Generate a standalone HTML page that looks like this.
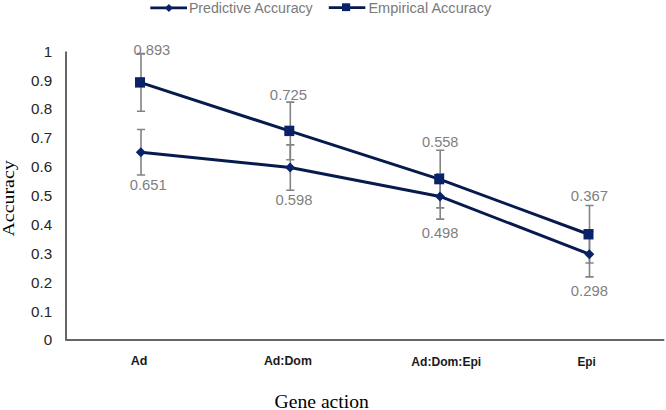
<!DOCTYPE html>
<html><head><meta charset="utf-8"><style>
html,body{margin:0;padding:0;background:#fff;overflow:hidden;}
svg{display:block;}
text{font-family:"Liberation Sans",sans-serif;}
.yt{fill:#262626;}
.dl{fill:#7f7f7f;}
.xl{font-weight:bold;fill:#1a1a1a;}
.lg{fill:#7a7a7a;}
.at{font-family:"Liberation Serif",serif;fill:#000;}
</style></head><body>
<svg width="666" height="410" viewBox="0 0 666 410">
<path d="M66 51.6V340.05H664.3" stroke="#656565" stroke-width="2" fill="none" stroke-linejoin="round"/>
<path d="M141.0 129.56V174.96M136.90 129.56H145.10M136.90 174.96H145.10" stroke="#838383" stroke-width="1.6" fill="none"/>
<path d="M290.3 144.86V190.26M286.20 144.86H294.40M286.20 190.26H294.40" stroke="#838383" stroke-width="1.6" fill="none"/>
<path d="M440.2 173.73V219.13M436.10 173.73H444.30M436.10 219.13H444.30" stroke="#838383" stroke-width="1.6" fill="none"/>
<path d="M589.5 231.47V276.87M585.40 231.47H593.60M585.40 276.87H593.60" stroke="#838383" stroke-width="1.6" fill="none"/>
<path d="M141.0 53.59V111.19M136.90 53.59H145.10M136.90 111.19H145.10" stroke="#838383" stroke-width="1.6" fill="none"/>
<path d="M290.3 102.09V159.69M286.20 102.09H294.40M286.20 159.69H294.40" stroke="#838383" stroke-width="1.6" fill="none"/>
<path d="M440.2 150.31V207.91M436.10 150.31H444.30M436.10 207.91H444.30" stroke="#838383" stroke-width="1.6" fill="none"/>
<path d="M589.5 205.45V263.05M585.40 205.45H593.60M585.40 263.05H593.60" stroke="#838383" stroke-width="1.6" fill="none"/>
<polyline points="140.80,152.26 290.10,167.56 440.00,196.43 589.30,254.17" fill="none" stroke="#061a4e" stroke-width="3" stroke-linejoin="round"/>
<polyline points="140.00,82.39 289.30,130.89 439.20,179.11 588.50,234.25" fill="none" stroke="#061a4e" stroke-width="3" stroke-linejoin="round"/>
<polygon points="140.80,147.26 145.80,152.26 140.80,157.26 135.80,152.26" fill="#0a226a"/>
<polygon points="290.10,162.56 295.10,167.56 290.10,172.56 285.10,167.56" fill="#0a226a"/>
<polygon points="440.00,191.43 445.00,196.43 440.00,201.43 435.00,196.43" fill="#0a226a"/>
<polygon points="589.30,249.17 594.30,254.17 589.30,259.17 584.30,254.17" fill="#0a226a"/>
<rect x="135.00" y="77.19" width="10" height="10.4" fill="#0a226a"/>
<rect x="284.30" y="125.69" width="10" height="10.4" fill="#0a226a"/>
<rect x="434.20" y="173.91" width="10" height="10.4" fill="#0a226a"/>
<rect x="583.50" y="229.05" width="10" height="10.4" fill="#0a226a"/>
<line x1="150.3" y1="7.9" x2="187" y2="7.9" stroke="#061a4e" stroke-width="2.8"/>
<polygon points="168.9,3.9 172.9,7.9 168.9,11.9 164.9,7.9" fill="#0a226a"/>
<line x1="328.8" y1="7.65" x2="365.3" y2="7.65" stroke="#061a4e" stroke-width="2.8"/>
<rect x="342" y="3.3" width="8.2" height="7.8" fill="#0a226a"/>
<text x="52.1" y="345.40" class="yt" text-anchor="end" style="font-size:15.2px">0</text>
<text x="52.1" y="316.53" class="yt" text-anchor="end" style="font-size:15.2px">0.1</text>
<text x="52.1" y="287.66" class="yt" text-anchor="end" style="font-size:15.2px">0.2</text>
<text x="52.1" y="258.79" class="yt" text-anchor="end" style="font-size:15.2px">0.3</text>
<text x="52.1" y="229.92" class="yt" text-anchor="end" style="font-size:15.2px">0.4</text>
<text x="52.1" y="201.05" class="yt" text-anchor="end" style="font-size:15.2px">0.5</text>
<text x="52.1" y="172.18" class="yt" text-anchor="end" style="font-size:15.2px">0.6</text>
<text x="52.1" y="143.31" class="yt" text-anchor="end" style="font-size:15.2px">0.7</text>
<text x="52.1" y="114.44" class="yt" text-anchor="end" style="font-size:15.2px">0.8</text>
<text x="52.1" y="85.57" class="yt" text-anchor="end" style="font-size:15.2px">0.9</text>
<text x="52.1" y="56.70" class="yt" text-anchor="end" style="font-size:15.2px">1</text>
<text transform="translate(13.8,198.4) rotate(-90)" class="at" text-anchor="middle" style="font-size:16.8px" textLength="76.3" lengthAdjust="spacingAndGlyphs">Accuracy</text>
<text x="133.48" y="55.00" class="dl" style="font-size:15.20px" textLength="36.80" lengthAdjust="spacingAndGlyphs">0.893</text>
<text x="129.70" y="190.00" class="dl" style="font-size:15.20px" textLength="36.96" lengthAdjust="spacingAndGlyphs">0.651</text>
<text x="269.85" y="100.00" class="dl" style="font-size:15.20px" textLength="37.32" lengthAdjust="spacingAndGlyphs">0.725</text>
<text x="275.50" y="205.00" class="dl" style="font-size:15.20px" textLength="36.86" lengthAdjust="spacingAndGlyphs">0.598</text>
<text x="421.98" y="147.00" class="dl" style="font-size:15.20px" textLength="36.52" lengthAdjust="spacingAndGlyphs">0.558</text>
<text x="421.70" y="238.00" class="dl" style="font-size:15.20px" textLength="36.78" lengthAdjust="spacingAndGlyphs">0.498</text>
<text x="570.83" y="201.00" class="dl" style="font-size:15.20px" textLength="37.16" lengthAdjust="spacingAndGlyphs">0.367</text>
<text x="570.84" y="296.00" class="dl" style="font-size:15.20px" textLength="37.09" lengthAdjust="spacingAndGlyphs">0.298</text>
<text x="130.77" y="364.81" class="xl" style="font-size:12.00px" textLength="16.68" lengthAdjust="spacingAndGlyphs">Ad</text>
<text x="263.90" y="364.56" class="xl" style="font-size:12.00px" textLength="47.98" lengthAdjust="spacingAndGlyphs">Ad:Dom</text>
<text x="411.27" y="365.58" class="xl" style="font-size:12.00px" textLength="69.98" lengthAdjust="spacingAndGlyphs">Ad:Dom:Epi</text>
<text x="577.51" y="365.58" class="xl" style="font-size:12.00px" textLength="18.35" lengthAdjust="spacingAndGlyphs">Epi</text>
<text x="188.90" y="12.66" class="lg" style="font-size:14.00px" textLength="123.84" lengthAdjust="spacingAndGlyphs">Predictive Accuracy</text>
<text x="368.40" y="12.88" class="lg" style="font-size:14.00px" textLength="122.81" lengthAdjust="spacingAndGlyphs">Empirical Accuracy</text>
<text x="274.56" y="407.90" class="at" style="font-size:18.20px" textLength="94.30" lengthAdjust="spacingAndGlyphs">Gene action</text>
</svg>
</body></html>
